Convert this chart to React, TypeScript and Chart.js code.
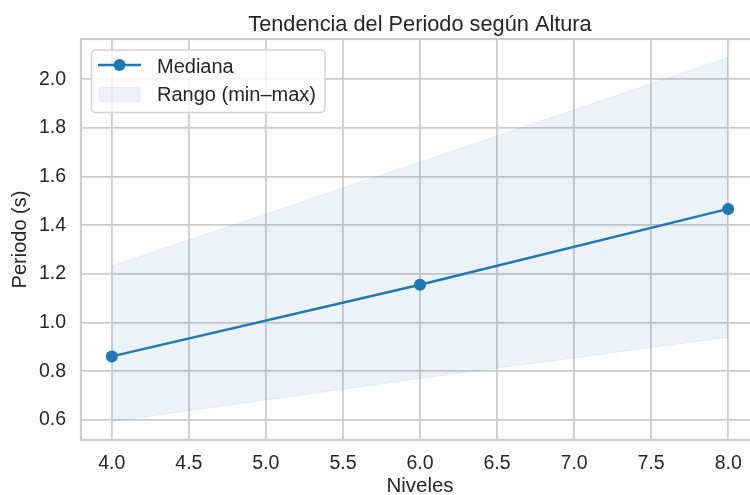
import React, { useEffect, useRef } from "react";
import { Chart, registerables } from "chart.js";

Chart.register(...registerables);

// ---- data ----
const niveles = [4, 6, 8];
const mediana = [0.861, 1.155, 1.467];
const rangoMin = [0.594, 0.77, 0.94];
const rangoMax = [1.232, 1.66, 2.089];
const xTicks = [4.0, 4.5, 5.0, 5.5, 6.0, 6.5, 7.0, 7.5, 8.0];
const yTicks = [0.6, 0.8, 1.0, 1.2, 1.4, 1.6, 1.8, 2.0];
const titulo = "Tendencia del Periodo según Altura";
const xLabel = "Niveles";
const yLabel = "Periodo (s)";
const legendLabels = ["Mediana", "Rango (min–max)"];

const FONT = "'Liberation Sans', Arial, Helvetica, sans-serif";
const TEXT = "#262626";
const GRID = "#cccccc";
const BLUE = "#1f77b4";
const BAND = "rgba(31,119,180,0.09)";

const decorPlugin = {
  id: "decor",
  afterDatasetsDraw(chart: any) {
    const { ctx, chartArea: a } = chart;
    ctx.save();
    ctx.strokeStyle = GRID;
    ctx.lineWidth = 2.2;
    ctx.strokeRect(a.left, a.top, a.right - a.left, a.bottom - a.top);
    ctx.restore();
  },
  afterDraw(chart: any) {
    const { ctx, chartArea: a } = chart;
    ctx.save();
    // title
    ctx.font = `21.75px ${FONT}`;
    ctx.fillStyle = TEXT;
    ctx.textAlign = "center";
    ctx.textBaseline = "alphabetic";
    ctx.fillText(titulo, (a.left + a.right) / 2, 31);

    // legend box
    const lx = 91.5, ly = 50, lw = 233.5, lh = 62.5, r = 4;
    ctx.beginPath();
    ctx.moveTo(lx + r, ly);
    ctx.lineTo(lx + lw - r, ly);
    ctx.arcTo(lx + lw, ly, lx + lw, ly + r, r);
    ctx.lineTo(lx + lw, ly + lh - r);
    ctx.arcTo(lx + lw, ly + lh, lx + lw - r, ly + lh, r);
    ctx.lineTo(lx + r, ly + lh);
    ctx.arcTo(lx, ly + lh, lx, ly + lh - r, r);
    ctx.lineTo(lx, ly + r);
    ctx.arcTo(lx, ly, lx + r, ly, r);
    ctx.closePath();
    ctx.fillStyle = "rgba(255,255,255,0.8)";
    ctx.fill();
    ctx.strokeStyle = "#d3d3d3";
    ctx.lineWidth = 1.5;
    ctx.stroke();

    // entry 1: line + marker
    ctx.strokeStyle = BLUE;
    ctx.lineWidth = 2.5;
    ctx.beginPath();
    ctx.moveTo(98, 65);
    ctx.lineTo(141, 65);
    ctx.stroke();
    ctx.fillStyle = BLUE;
    ctx.beginPath();
    ctx.arc(119.5, 65, 6, 0, Math.PI * 2);
    ctx.fill();

    // entry 2: patch
    ctx.fillStyle = BAND;
    ctx.fillRect(99, 87.5, 41, 14);
    ctx.strokeStyle = BAND;
    ctx.lineWidth = 1;
    ctx.strokeRect(99, 87.5, 41, 14);

    ctx.font = `20px ${FONT}`;
    ctx.fillStyle = TEXT;
    ctx.textAlign = "left";
    ctx.fillText(legendLabels[0], 157, 72.5);
    ctx.fillText(legendLabels[1], 157, 101);
    ctx.restore();
  },
};

export default function App() {
  const ref = useRef<HTMLCanvasElement | null>(null);

  useEffect(() => {
    if (!ref.current) return;
    const chart = new Chart(ref.current, {
      type: "line",
      data: {
        datasets: [
          {
            label: "max",
            data: niveles.map((x, i) => ({ x, y: rangoMax[i] })),
            borderColor: BAND,
            borderWidth: 1,
            backgroundColor: BAND,
            pointRadius: 0,
            fill: "+1",
            order: 2,
          },
          {
            label: "min",
            data: niveles.map((x, i) => ({ x, y: rangoMin[i] })),
            borderColor: BAND,
            borderWidth: 1,
            pointRadius: 0,
            fill: false,
            order: 3,
          },
          {
            label: legendLabels[0],
            data: niveles.map((x, i) => ({ x, y: mediana[i] })),
            borderColor: BLUE,
            backgroundColor: BLUE,
            borderWidth: 2.5,
            pointRadius: 6,
            pointBackgroundColor: BLUE,
            pointBorderWidth: 0,
            fill: false,
            order: 0,
          },
        ],
      },
      options: {
        animation: false,
        responsive: false,
        devicePixelRatio: 1,
        layout: { padding: { top: 39, right: 11, left: 0, bottom: 0 } },
        plugins: {
          legend: { display: false },
          title: { display: false },
          tooltip: { enabled: false },
        },
        scales: {
          x: {
            type: "linear",
            min: 3.8,
            max: 8.2,
            afterBuildTicks: (s: any) => {
              s.ticks = xTicks.map((v) => ({ value: v }));
            },
            afterFit: (s: any) => {
              s.height = 55;
            },
            grid: { color: GRID, lineWidth: 1.8, drawTicks: false },
            border: { display: false },
            ticks: {
              padding: 11.5,
              color: TEXT,
              font: { family: FONT, size: 19.5, lineHeight: 1.2 },
              callback: (v: any) => Number(v).toFixed(1),
              maxRotation: 0,
              autoSkip: false,
            },
            title: {
              display: true,
              text: xLabel,
              color: TEXT,
              font: { family: FONT, size: 20.5, lineHeight: 0.8 },
              padding: { top: 0, bottom: 0 },
            },
          },
          y: {
            type: "linear",
            min: 0.5175,
            max: 2.165,
            afterBuildTicks: (s: any) => {
              s.ticks = yTicks.map((v) => ({ value: v }));
            },
            afterFit: (s: any) => {
              s.width = 81;
            },
            grid: { color: GRID, lineWidth: 1.8, drawTicks: false },
            border: { display: false },
            ticks: {
              padding: 15,
              color: TEXT,
              font: { family: FONT, size: 19.5, lineHeight: 1.2 },
              callback: (v: any) => Number(v).toFixed(1),
              autoSkip: false,
            },
            title: {
              display: true,
              text: yLabel,
              color: TEXT,
              font: { family: FONT, size: 20, lineHeight: 1.2 },
              padding: { top: 8, bottom: 0 },
            },
          },
        },
      },
      plugins: [decorPlugin],
    } as any);
    return () => chart.destroy();
  }, []);

  return (
    <div
      style={{
        position: "absolute",
        left: 0,
        top: 0,
        width: 750,
        height: 495,
        overflow: "hidden",
        background: "#ffffff",
      }}
    >
      <canvas
        ref={ref}
        width={770}
        height={495}
        style={{ display: "block", width: 770, height: 495 }}
      />
    </div>
  );
}
